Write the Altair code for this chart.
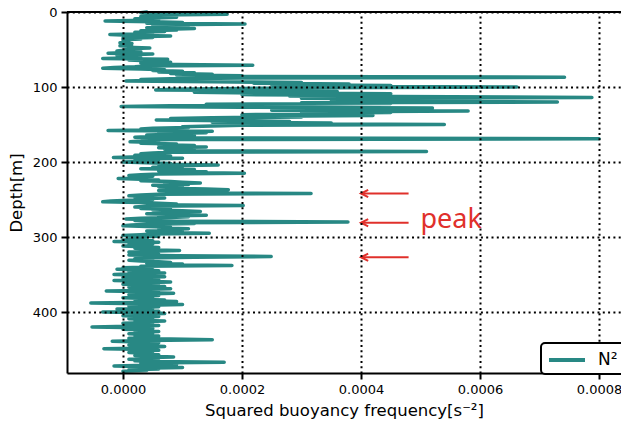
import altair as alt
import pandas as pd

TEAL = "#288884"
RED = "#e0302b"
FONT = "DejaVu Sans"

# Squared buoyancy frequency profile, 1 m depth steps from 0 m, in units of 1e-5 s^-2
n2_e5 = [
    4, 3, 6, 17.5, 6, 8, 3, 9, 5, 2,            # 0-9 m
    6, 4, -3, 5, 10, 4, 20.5, 7, 11, 5,         # 10
    8, 4, 12, 7.5, 9, 3, 7, 2, 5, 4,            # 20
    -2.2, 1, 8, 2, 5, 0, 3, 0, 1, 0.5,          # 30
    1, -0.5, 1.5, 0, 1.2, -0.5, 1.5, 0.5, 4.5, 0.5,  # 40
    2, 0, -1, 3, 1, -2.5, 5, 1, -1, 2,          # 50
    0, 3, -3.4, 7.5, 1, 4, 6, 8, 3, 5,          # 60
    9, 21.8, 4, 2, -1.5, -3.4, 3, 7, 5, 10,     # 70
    6, 12, 8, 15, 9, 20, 12, 74.2, 20, 8,       # 80
    3, 6, 0.5, 15, 30, 22, 38, 25, 45, 30,      # 90
    66.2, 35, 20, 8, 5.5, 30, 36, 12, 25, 45,   # 100
    20, 40, 28, 55, 78.8, 30, 50, 35, 60, 40,   # 110
    73, 30, 45, 14, 25, 8, -0.3, 20, 52, 30,    # 120
    40, 25, 58, 35, 45, 30, 38, 20, 42, 25,     # 130
    30, 15, 8, 12, 5.6, 18, 28, 15, 35, 25,     # 140
    54, 20, 15, 10, 11, 5, 3, 8, -2.5, 15,      # 150
    10, 14, 6, 9, 4, 12, 5, 2, 10, 80,          # 160
    8, 4, 3, 1.2, 6, 3, 9, 6, 12, 8,            # 170
    14, 6, 10, 7, 12, 9, 51, 8, 5, 3,           # 180
    7, 2, 8, 3, -1.6, 10, 4, 6, 2, 5,           # 190
    0, 4, 8, 6, 16, 7, 10, 5, 9, 3,             # 200
    12, 8, 6, 14, 10, 20.4, 6, 3, 1, 5,         # 210
    2, 4, -0.8, 3, 6, 3, 8, 10, 13, 7,          # 220
    11, 5, 9, 6, 10, 8, 14, 17.7, 6, 10,        # 230
    12, 8, 31.6, 6, 3, 1, 5, 2, 7, 3,           # 240
    5, 1, -2, -3.4, 3, 6, 9, 5, 20.2, 4,        # 250
    2, 6, 3, 8, 5, 10, 13, 7, 12, 4,            # 260
    9, 14, 6, 11, 8, 3, 0.5, 5, 2, 8,           # 270
    37.8, 6, 12, 4, 1.5, 0, 4, 8, 6, 11,        # 280
    7, 10, 4, 8, 6, 14.5, 5, 3, 0, 6,           # 290
    2, 4, 1, 3, 0, 5, -1.5, 6, 3, 5,            # 300
    1, 4, 0, 3, 6, 2, 5, 3, 9.5, 4,             # 310
    1, 5, 2, 6, 1, 9, 24.9, 12, 3, 2,           # 320
    5, 1, 3, 6, 8, 4, 10, 6, 18.3, 3,           # 330
    5, 0, 4, -1, 3, 6, 1, 4, 7, 2,              # 340
    -1.5, 5, 3, 7, 0, 4, 2, 6, -1.5, 4,         # 350
    8, 3, 6, 0, 5, 2, 7, 1, 4, 8,               # 360
    3, 6, -2.8, 5, 2, 8.5, 4, 1, 6, 3,          # 370
    5, 0, 4, 2, 7, 4, 9, 5, -5.4, 3,            # 380
    10, 4, 1, 6, 2, 5, -1, 4, 2, 6,             # 390
    -3.4, 5, 7, 2, 4, 0, 6, 3, 5, 1,            # 400
    4, 2, 7, 3, 5, 0, 4, 2, 6, 1,               # 410
    -5.2, 3, 5, 0, 4, 2, 6, 3, 5, 1,            # 420
    4, 2, 6, 3, 5, 1, 8, 15, 4, -1.8,           # 430
    3, 6, 2, 5, 1, 4, 7, 3, 5, -3.2,            # 440
    4, 6, 2, 5, 1, 4, 3, 6, 2, 5,               # 450
    8.5, 3, 6, 1, 4, 2, 5, 17, 3, 6,            # 460
    9, 4, -1.5, 5, 10, 3, 6, 1, 4, 0,           # 470
]
depth_m = list(range(len(n2_e5)))

# Annotated peaks
arrow_depth = [242, 281, 327]
arrow_tail = [0.00048, 0.00048, 0.00048]
arrow_tip = [0.0004, 0.0004, 0.0004]
peak_text = ["peak"]
peak_x = [0.0005]
peak_depth = [288]

x_ticks = [0.0, 0.0002, 0.0004, 0.0006, 0.0008]
y_ticks = [0, 100, 200, 300, 400]

profile = pd.DataFrame({
    "depth": depth_m,
    "n2": [v * 1e-5 for v in n2_e5],
    "series": ["N²"] * len(n2_e5),
})
arrows = pd.DataFrame({"depth": arrow_depth, "tail": arrow_tail, "tip": arrow_tip})
label = pd.DataFrame({"text": peak_text, "x": peak_x, "depth": peak_depth})

x_scale = alt.Scale(domain=[-0.0000941, 0.000837], nice=False, zero=False)
y_scale = alt.Scale(domain=[0, 481.3], reverse=True, nice=False, zero=False)

axis_style = dict(
    grid=True, gridColor="black", gridDash=[2, 3.3], gridWidth=2, gridOpacity=1,
    domainColor="black", domainWidth=2, tickColor="black", tickWidth=2, tickSize=6,
    labelFont=FONT, labelFontSize=13, labelColor="black", labelPadding=4, labelFlush=False,
    titleFont=FONT, titleFontSize=16.5, titleFontWeight="normal", titleColor="black",
    zindex=1,
)
x_axis = alt.Axis(values=x_ticks, format=".4f", title="Squared buoyancy frequency[s⁻²]",
                  titlePadding=6, **axis_style)
y_axis = alt.Axis(values=y_ticks, format="d", title="Depth[m]", titlePadding=8, **axis_style)

line = alt.Chart(profile).mark_line(strokeWidth=3.6, strokeJoin="round", strokeCap="round").encode(
    x=alt.X("n2:Q", scale=x_scale, axis=x_axis),
    y=alt.Y("depth:Q", scale=y_scale, axis=y_axis),
    order=alt.Order("depth:Q"),
    color=alt.Color("series:N", scale=alt.Scale(domain=["N²"], range=[TEAL]),
                    legend=alt.Legend(title=None, orient="none", legendX=474, legendY=331,
                                      strokeColor="black", fillColor="white", cornerRadius=4,
                                      padding=6, symbolType="M-1,0H3", symbolSize=324,
                                      symbolStrokeWidth=4, labelFont=FONT, labelFontSize=17,
                                      labelColor="black", labelOffset=29, zindex=2)),
)

top_spine = alt.Chart(profile).mark_rule(color="black", strokeWidth=2).encode(y=alt.value(0))

shafts = alt.Chart(arrows).mark_rule(color=RED, strokeWidth=2).encode(
    x=alt.X("tail:Q", scale=x_scale, axis=x_axis),
    x2="tip:Q",
    y=alt.Y("depth:Q", scale=y_scale, axis=y_axis),
)
heads = alt.Chart(arrows).mark_point(
    shape="M1.8,-0.9L0,0L1.8,0.9", size=64, filled=False, stroke=RED, strokeWidth=2, opacity=1
).encode(
    x=alt.X("tip:Q", scale=x_scale, axis=x_axis),
    y=alt.Y("depth:Q", scale=y_scale, axis=y_axis),
)
peak = alt.Chart(label).mark_text(
    align="left", baseline="alphabetic", font="Noto Sans", fontSize=27, color=RED
).encode(
    x=alt.X("x:Q", scale=x_scale, axis=x_axis),
    y=alt.Y("depth:Q", scale=y_scale, axis=y_axis),
    text="text:N",
)

chart = alt.layer(line, top_spine, shafts, heads, peak).properties(
    width=554, height=361,
    autosize=alt.AutoSizeParams(type="none"),
    padding={"left": 67, "top": 12, "right": 0, "bottom": 52},
).configure_view(stroke=None).configure_legend(strokeWidth=2)

chart.save("out.html", embed_options={"renderer": "svg", "actions": False})
